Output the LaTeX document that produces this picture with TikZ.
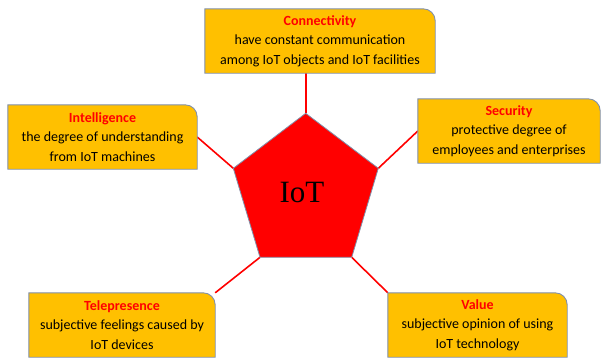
\documentclass[tikz,border=0pt]{standalone}
\usepackage{fontspec}
\setmainfont{Carlito}
\newfontfamily\iotfont{Liberation Serif}
\usetikzlibrary{backgrounds}
\definecolor{boxfill}{RGB}{255,192,0}
\definecolor{boxedge}{RGB}{128,144,170}
\definecolor{linkred}{RGB}{255,0,0}
\tikzset{
  infobox/.style={rectangle, inner sep=0pt, minimum height=64pt, align=center,
    font=\fontsize{14}{19.5}\selectfont, text=black},
  boxline/.style={draw=boxedge, fill=boxfill, line width=0.9pt},
  link/.style={draw=linkred, line width=1.6pt}
}
\newcommand\ttlred[1]{\textcolor{linkred}{\textbf{#1}}}
\newcommand\roundbox[1]{\path[boxline] (#1.south west) -- (#1.north west) -- ([xshift=-12pt]#1.north east) arc[start angle=90,end angle=0,radius=12pt] -- (#1.south east) -- cycle;}
\begin{document}
\begin{tikzpicture}[x=1pt,y=1pt]
\useasboundingbox (0,0) rectangle (601,360);
% pentagon corners
\coordinate (p1) at (305.7,246.7);
\coordinate (p2) at (378.3,191.7);
\coordinate (p3) at (351.7,102.7);
\coordinate (p4) at (260,102.7);
\coordinate (p5) at (233.3,191.7);
\node[font=\iotfont\fontsize{31}{31}\selectfont] (iot) at (302,168) {IoT};
% boxes
\node[infobox, minimum width=230pt] (con) at (320,319) {\ttlred{Connectivity}\\have constant communication\\among IoT objects and IoT facilities};
\node[infobox, minimum width=189pt] (int) at (102.5,223) {\ttlred{Intelligence}\\the degree of understanding\\from IoT machines};
\node[infobox, minimum width=182pt] (sec) at (509,229) {\ttlred{Security}\\protective degree of\\employees and enterprises};
\node[infobox, minimum width=186pt] (tel) at (122,35) {\ttlred{Telepresence}\\subjective feelings caused by\\IoT devices};
\node[infobox, minimum width=179pt] (val) at (477.5,35) {\ttlred{Value}\\subjective opinion of using\\IoT technology};
\begin{pgfonlayer}{background}
\draw[link] (p1) -- (con.south -| p1);
\draw[link] (p5) -- (int.east);
\draw[link] (p2) -- (sec.west);
\draw[link] (p4) -- (tel.north east);
\draw[link] (p3) -- (val.north west);
\path[fill=linkred, draw=boxedge, line width=0.8pt] (p1) -- (p2) -- (p3) -- (p4) -- (p5) -- cycle;
\roundbox{con}
\roundbox{int}
\roundbox{sec}
\roundbox{tel}
\roundbox{val}
\end{pgfonlayer}
\end{tikzpicture}
\end{document}
